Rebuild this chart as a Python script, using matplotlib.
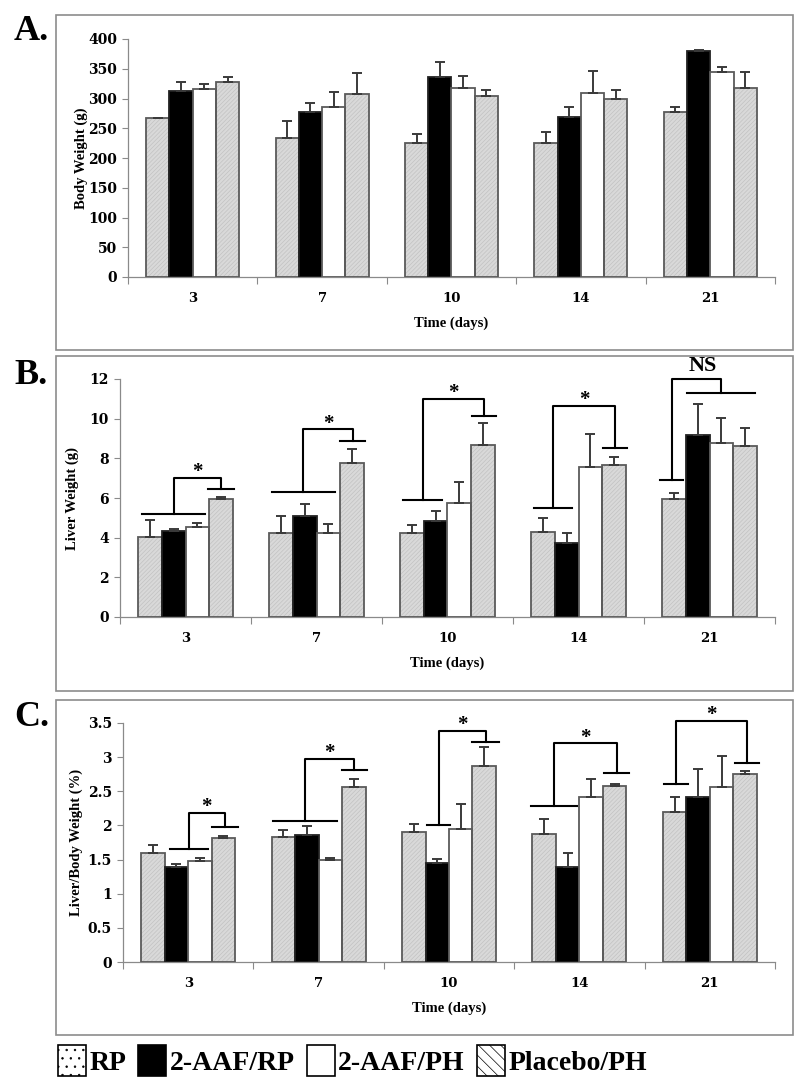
"""
Body weight / liver weight / liver-body ratio, 4 treatment groups over time
"""
import numpy as np
import matplotlib
matplotlib.use('Agg')
import matplotlib.pyplot as plt
from matplotlib.patches import Rectangle, Patch

plt.rcParams['hatch.linewidth'] = 0.5

# ============================================================
#  data
# ============================================================
DAYS = ['3', '7', '10', '14', '21']
GROUPS = ['RP', '2-AAF/RP', '2-AAF/PH', 'Placebo/PH']

# A. body weight (g)   rows: RP, 2-AAF/RP, 2-AAF/PH, Placebo/PH
body_mean = [[267, 233, 225, 226, 278],
             [313, 278, 336, 269, 380],
             [316, 285, 317, 310, 345],
             [327, 307, 305, 299, 317]]
body_err = [[1, 30, 15, 18, 8],
            [14, 15, 25, 16, 1],
            [8, 26, 20, 37, 8],
            [9, 36, 10, 15, 28]]

# B. liver weight (g)
liver_mean = [[4.05, 4.25, 4.22, 4.30, 5.94],
              [4.34, 5.09, 4.84, 3.72, 9.18],
              [4.55, 4.22, 5.73, 7.58, 8.79],
              [5.94, 7.75, 8.67, 7.66, 8.62]]
liver_err = [[0.84, 0.86, 0.40, 0.71, 0.30],
             [0.08, 0.59, 0.52, 0.53, 1.55],
             [0.20, 0.45, 1.09, 1.63, 1.26],
             [0.13, 0.71, 1.13, 0.39, 0.93]]

# C. liver / body weight (%)
ratio_mean = [[1.60, 1.83, 1.91, 1.88, 2.19],
              [1.39, 1.86, 1.45, 1.39, 2.42],
              [1.48, 1.49, 1.95, 2.42, 2.56],
              [1.82, 2.57, 2.87, 2.58, 2.75]]
ratio_err = [[0.12, 0.10, 0.11, 0.22, 0.22],
             [0.04, 0.13, 0.06, 0.21, 0.40],
             [0.04, 0.04, 0.37, 0.26, 0.45],
             [0.02, 0.11, 0.28, 0.03, 0.05]]

# significance brackets: (day idx, left line x0, x1, y, right line x0, x1, y, top, label)
liver_sig = [(0, -0.33, 0.15, 5.19, 0.17, 0.37, 6.44, 7.02, '*'),
             (1, -0.34, 0.14, 6.29, 0.18, 0.37, 8.87, 9.46, '*'),
             (2, -0.34, -0.04, 5.90, 0.19, 0.37, 10.14, 10.98, '*'),
             (3, -0.34, -0.05, 5.51, 0.19, 0.37, 8.54, 10.64, '*'),
             (4, -0.38, -0.20, 6.91, -0.17, 0.35, 11.28, 11.99, 'NS')]
ratio_sig = [(0, -0.14, 0.15, 1.65, 0.18, 0.38, 1.97, 2.18, '*'),
             (1, -0.35, 0.14, 2.07, 0.18, 0.37, 2.81, 2.98, '*'),
             (2, -0.17, 0.01, 2.01, 0.18, 0.38, 3.22, 3.38, '*'),
             (3, -0.37, -0.02, 2.28, 0.19, 0.38, 2.77, 3.20, '*'),
             (4, -0.35, -0.17, 2.61, 0.19, 0.38, 2.92, 3.53, '*')]

# ============================================================
#  style
# ============================================================
W, H = 798, 1082
SERIF = 'Liberation Serif'
BAR_W = 0.18
FACE = ['#d9d9d9', 'black', 'white', '#d9d9d9']
HATCH = ['////////', None, None, '////////']
EDGE = ['#5a5a5a', '#222222', '#5a5a5a', '#5a5a5a']
AXCOL = '#8a8a8a'


def fx(px):
    return px / W


def fy(py):
    return 1 - py / H


def draw_panel(ax, means, errs, ymax, ystep, ylabel, sig=None, xlab_y=-0.165):
    x = np.arange(len(DAYS))
    for i in range(len(GROUPS)):
        pos = x + (i - 1.5) * BAR_W
        if HATCH[i]:
            ax.bar(pos, means[i], BAR_W, color=FACE[i], hatch=HATCH[i],
                   edgecolor='#c2c2c2', linewidth=0, zorder=2)
            ax.bar(pos, means[i], BAR_W, fill=False, edgecolor=EDGE[i],
                   linewidth=1.3, zorder=3)
        else:
            ax.bar(pos, means[i], BAR_W, color=FACE[i], edgecolor=EDGE[i],
                   linewidth=1.3, zorder=3)
        ax.errorbar(pos, means[i], yerr=[np.zeros(len(DAYS)), errs[i]], fmt='none',
                    ecolor='#3a3a3a', elinewidth=1.4, capsize=3.6, capthick=1.4, zorder=4)

    if sig:
        for d, lx0, lx1, ly, rx0, rx1, ry, top, lab in sig:
            lc = d + (lx0 + lx1) / 2
            rc = d + (rx0 + rx1) / 2
            kw = dict(color='black', lw=1.5, zorder=5, clip_on=False)
            ax.plot([d + lx0, d + lx1], [ly, ly], **kw)
            ax.plot([d + rx0, d + rx1], [ry, ry], **kw)
            ax.plot([lc, lc, rc, rc], [ly, top, top, ry], **kw)
            if lab == 'NS':
                ax.annotate(lab, ((lc + rc) / 2 + 0.05, top), xytext=(0, 2),
                            textcoords='offset points', ha='center', va='bottom',
                            fontsize=16, fontweight='bold', family=SERIF,
                            annotation_clip=False)
            else:
                ax.annotate(lab, ((lc + rc) / 2, top), xytext=(0, -3),
                            textcoords='offset points', ha='center', va='bottom',
                            fontsize=15, fontweight='bold', family=SERIF,
                            annotation_clip=False)

    ax.set_xlim(-0.5, len(DAYS) - 0.5)
    ax.set_ylim(0, ymax)
    ax.set_yticks(np.arange(0, ymax + ystep / 2, ystep))
    ax.set_yticklabels(['%g' % v for v in np.arange(0, ymax + ystep / 2, ystep)])
    ax.set_xticks(np.arange(-0.5, len(DAYS)))
    ax.set_xticklabels([])
    ax.set_xticks(x, minor=True)
    ax.set_xticklabels(DAYS, minor=True)
    ax.tick_params(axis='x', which='major', length=5, color=AXCOL, direction='out')
    ax.tick_params(axis='x', which='minor', length=0, pad=11)
    ax.tick_params(axis='y', length=4, color=AXCOL, width=0.8, pad=4)
    for lab in ax.get_yticklabels():
        lab.set_family('DejaVu Serif')
        lab.set_fontweight('bold')
        lab.set_fontsize(10)
    for lab in ax.get_xticklabels(minor=True):
        lab.set_family('DejaVu Serif')
        lab.set_fontweight('bold')
        lab.set_fontsize(9.5)
    for s in ['top', 'right']:
        ax.spines[s].set_visible(False)
    for s in ['left', 'bottom']:
        ax.spines[s].set_color(AXCOL)
        ax.spines[s].set_linewidth(0.9)

    ax.set_ylabel(ylabel, family=SERIF, fontweight='bold', fontsize=10.5)
    ax.yaxis.set_label_coords(-0.062, 0.5)
    ax.set_xlabel('Time (days)', family=SERIF, fontweight='bold', fontsize=10.5)
    ax.xaxis.set_label_coords(0.5, xlab_y)


fig = plt.figure(figsize=(W / 100, H / 100), dpi=100)

# panel frames
for top in [15, 356, 700]:
    fig.patches.append(Rectangle((fx(56), fy(top + 335)), fx(793) - fx(56), 335 / H,
                                 transform=fig.transFigure, fill=False,
                                 edgecolor='#8c8c8c', linewidth=1.2))

axA = fig.add_axes([fx(128), fy(277), fx(775) - fx(128), 238 / H])
axB = fig.add_axes([fx(120), fy(617), fx(775) - fx(120), 238 / H])
axC = fig.add_axes([fx(123), fy(962), fx(775) - fx(123), 239 / H])

draw_panel(axA, body_mean, body_err, 400, 50, 'Body Weight (g)')
draw_panel(axB, liver_mean, liver_err, 12, 2, 'Liver Weight (g)', liver_sig)
draw_panel(axC, ratio_mean, ratio_err, 3.5, 0.5, 'Liver/Body Weight (%)', ratio_sig)

for lab, py in [('A.', 32), ('B.', 375), ('C.', 717)]:
    fig.text(fx(14), fy(py), lab, family=SERIF, fontweight='bold', fontsize=26,
             ha='left', va='center')

# legend
handles = [Patch(facecolor='white', edgecolor='black', hatch='..', linewidth=1.2),
           Patch(facecolor='black', edgecolor='black', linewidth=1.2),
           Patch(facecolor='white', edgecolor='black', linewidth=1.2),
           Patch(facecolor='white', edgecolor='black', hatch='\\\\\\', linewidth=1.2)]
fig.legend(handles, GROUPS, loc='lower left', bbox_to_anchor=(fx(58), fy(1076)),
           ncol=4, frameon=False, handlelength=1.0, handleheight=1.35,
           handletextpad=0.12, columnspacing=0.45, borderpad=0, borderaxespad=0,
           prop={'family': SERIF, 'weight': 'bold', 'size': 20})

fig.savefig('out.png', dpi=100)
